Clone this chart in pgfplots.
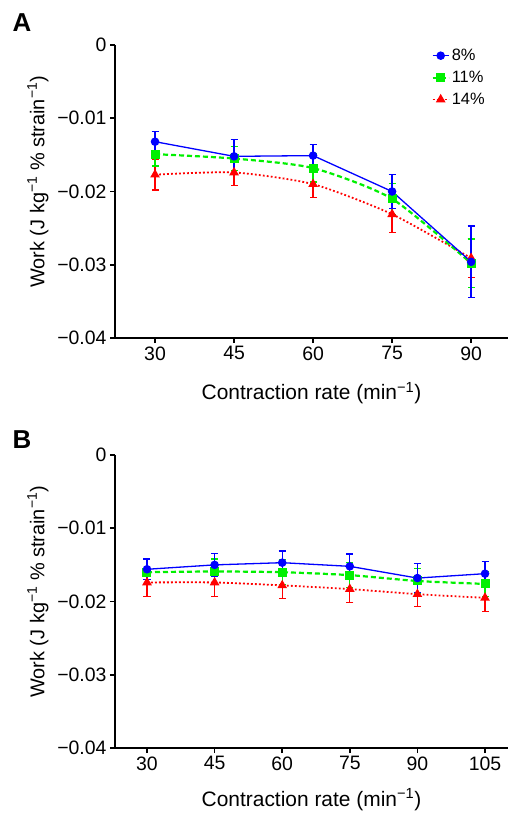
\documentclass[border=0pt]{standalone}
\usepackage{fontspec}
\setmainfont{Liberation Sans}
\usepackage{pgfplots}
\pgfplotsset{compat=1.18}

\pgfplotsset{
 myaxis/.style={
  scale only axis, width=393bp, height=293bp,
  axis lines=left, axis line style={line width=1.6bp, -},
  ymin=-0.04, ymax=0, ytick={-0.04,-0.03,-0.02,-0.01,0},
  yticklabels={−0.04,−0.03,−0.02,−0.01,0},
  scaled y ticks=false,
  /pgf/number format/assume math mode=true,
  tick align=outside, major tick length=5bp, tick style={line width=1.6bp, black},
  ticklabel style={font=\fontsize{19.5}{23}\selectfont},
  ylabel={Work (J kg\textsuperscript{−1} \% strain\textsuperscript{−1})},
  ylabel style={at={(axis description cs:-0.196,0.533)}, anchor=center, font=\fontsize{20}{23}\selectfont},
  xlabel={Contraction rate (min\textsuperscript{−1})},
  clip=false,
  error bars/error bar style={line width=1.3bp, solid},
  error bars/error mark options={rotate=90, mark size=3.5bp, line width=1.3bp, solid},
  legend image code/.code={\draw[mark repeat=2,mark phase=2,#1] plot coordinates {(0bp,0bp) (8bp,0bp) (16bp,0bp)};},
 },
 sblue/.style={color={rgb,255:red,0;green,0;blue,255}, line width=1.3bp, mark=*, mark size=3.6bp, mark options={solid}},
 sgreen/.style={color={rgb,255:red,0;green,240;blue,0}, line width=2.2bp, dash pattern=on 5bp off 3bp, mark=square*, mark size=3.4bp, mark options={solid}},
 sred/.style={color={rgb,255:red,255;green,0;blue,0}, line width=1.8bp, dash pattern=on 1.8bp off 2.2bp, mark=triangle*, mark size=3.8bp, mark options={solid}},
}

\begin{document}
\begin{tikzpicture}
\useasboundingbox (0,0) rectangle (508bp,-815bp);
\node[anchor=base west, font=\fontsize{26}{30}\selectfont\bfseries] at (9bp,-31bp) {A};
\node[anchor=base west, font=\fontsize{26}{30}\selectfont\bfseries] at (9bp,-448bp) {B};

\begin{axis}[myaxis, at={(115bp,-338bp)}, anchor=south west,
  xmin=22.4, xmax=97, xtick={30,45,60,75,90},
  xlabel style={at={(axis description cs:0.5,-0.188)}, anchor=center, font=\fontsize{21}{24}\selectfont},
  reverse legend,
  legend style={at={(rel axis cs:0.80,1.0)}, anchor=north west, draw=none, fill=none,
    inner sep=2bp, row sep=5bp, font=\fontsize{16.5}{19}\selectfont},
  legend cell align=left]
\addplot[sred, smooth, tension=0.4, error bars/.cd, y dir=both, y explicit] coordinates {
 (30,-0.0177) +- (0,0.0021)
 (45,-0.0174) +- (0,0.0018)
 (60,-0.0190) +- (0,0.0018)
 (75,-0.0231) +- (0,0.0025)
 (90,-0.0291) +- (0,0.0026)
};
\addlegendentry{14\%}
\addplot[sgreen, smooth, tension=0.4, error bars/.cd, y dir=both, y explicit] coordinates {
 (30,-0.0149) +- (0,0.0016)
 (45,-0.0155) +- (0,0.0016)
 (60,-0.0168) +- (0,0.0019)
 (75,-0.0210) +- (0,0.0021)
 (90,-0.0298) +- (0,0.0033)
};
\addlegendentry{11\%}
\addplot[sblue, error bars/.cd, y dir=both, y explicit] coordinates {
 (30,-0.0132) +- (0,0.0014)
 (45,-0.0152) +- (0,0.0023)
 (60,-0.0151) +- (0,0.0015)
 (75,-0.0200) +- (0,0.0023)
 (90,-0.0296) +- (0,0.0049)
};
\addlegendentry{8\%}
\end{axis}

\begin{axis}[myaxis, at={(115bp,-748bp)}, anchor=south west,
  xmin=22.9, xmax=110.1, xtick={30,45,60,75,90,105},
  xlabel style={at={(axis description cs:0.5,-0.177)}, anchor=center, font=\fontsize{21}{24}\selectfont}]
\addplot[sred, smooth, tension=0.4, error bars/.cd, y dir=both, y explicit] coordinates {
 (30,-0.0174) +- (0,0.0019)
 (45,-0.0174) +- (0,0.0019)
 (60,-0.0178) +- (0,0.0018)
 (75,-0.0183) +- (0,0.0018)
 (90,-0.0190) +- (0,0.0017)
 (105,-0.0195) +- (0,0.0019)
};
\addplot[sgreen, smooth, tension=0.4, error bars/.cd, y dir=both, y explicit] coordinates {
 (30,-0.0160) +- (0,0.0017)
 (45,-0.0159) +- (0,0.0017)
 (60,-0.0160) +- (0,0.0017)
 (75,-0.0164) +- (0,0.0017)
 (90,-0.0172) +- (0,0.0017)
 (105,-0.0176) +- (0,0.0017)
};
\addplot[sblue, error bars/.cd, y dir=both, y explicit] coordinates {
 (30,-0.0156) +- (0,0.0014)
 (45,-0.0150) +- (0,0.0016)
 (60,-0.0147) +- (0,0.0016)
 (75,-0.0152) +- (0,0.0017)
 (90,-0.0168) +- (0,0.0020)
 (105,-0.0162) +- (0,0.0017)
};
\end{axis}
\end{tikzpicture}
\end{document}
